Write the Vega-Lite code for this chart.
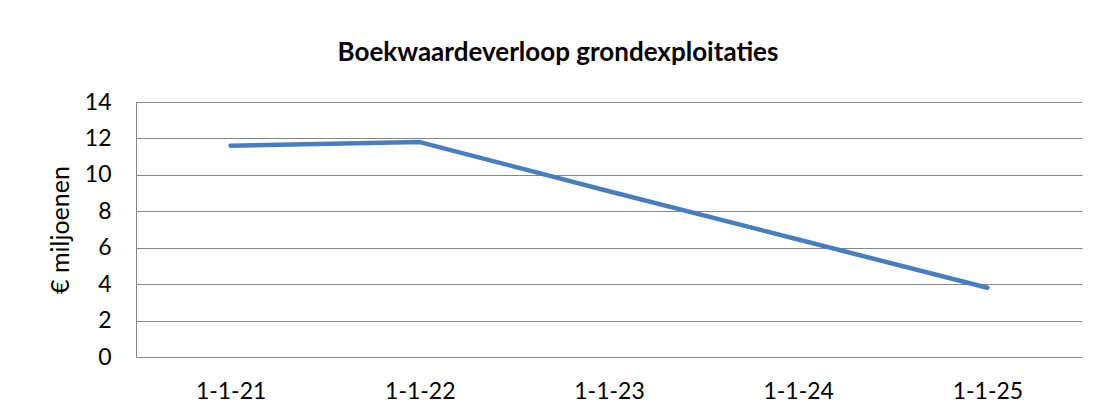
{
  "$schema": "https://vega.github.io/schema/vega-lite/v6.json",
  "autosize": {"type": "none"},
  "width": 946,
  "height": 255,
  "padding": {"left": 136, "top": 102, "right": 16, "bottom": 57},
  "background": "white",
  "title": {
    "text": "Boekwaardeverloop grondexploitaties",
    "font": "Lato",
    "fontSize": 26,
    "fontWeight": "bold",
    "color": "#000000",
    "anchor": "middle",
    "dx": -51,
    "offset": 25
  },
  "data": {
    "values": [
      {"datum": "1-1-21", "waarde": 11.6},
      {"datum": "1-1-22", "waarde": 11.8},
      {"datum": "1-1-23", "waarde": 9.1},
      {"datum": "1-1-24", "waarde": 6.45},
      {"datum": "1-1-25", "waarde": 3.8}
    ]
  },
  "mark": {"type": "line", "color": "#4A7EBB", "strokeWidth": 4.5, "strokeCap": "round", "strokeJoin": "round"},
  "encoding": {
    "x": {
      "field": "datum",
      "type": "ordinal",
      "sort": null,
      "scale": {"padding": 0.5},
      "axis": {
        "title": null,
        "labelAngle": 0,
        "labelFont": "Lato",
        "labelFontSize": 23,
        "labelColor": "#000000",
        "labelPadding": 23,
        "ticks": false,
        "grid": false,
        "domain": true,
        "domainColor": "#868686",
        "domainWidth": 1
      }
    },
    "y": {
      "field": "waarde",
      "type": "quantitative",
      "scale": {"domain": [0, 14], "nice": false},
      "axis": {
        "title": "€  miljoenen",
        "titleFont": "Lato",
        "titleFontSize": 25,
        "titleFontWeight": "normal",
        "titleColor": "#000000",
        "titlePadding": 11,
        "values": [0, 2, 4, 6, 8, 10, 12, 14],
        "labelFont": "Lato",
        "labelFontSize": 23,
        "labelColor": "#000000",
        "labelPadding": 25,
        "ticks": false,
        "grid": true,
        "gridColor": "#868686",
        "gridWidth": 1,
        "domain": true,
        "domainColor": "#868686",
        "domainWidth": 1
      }
    }
  },
  "config": {
    "view": {"stroke": null}
  }
}
